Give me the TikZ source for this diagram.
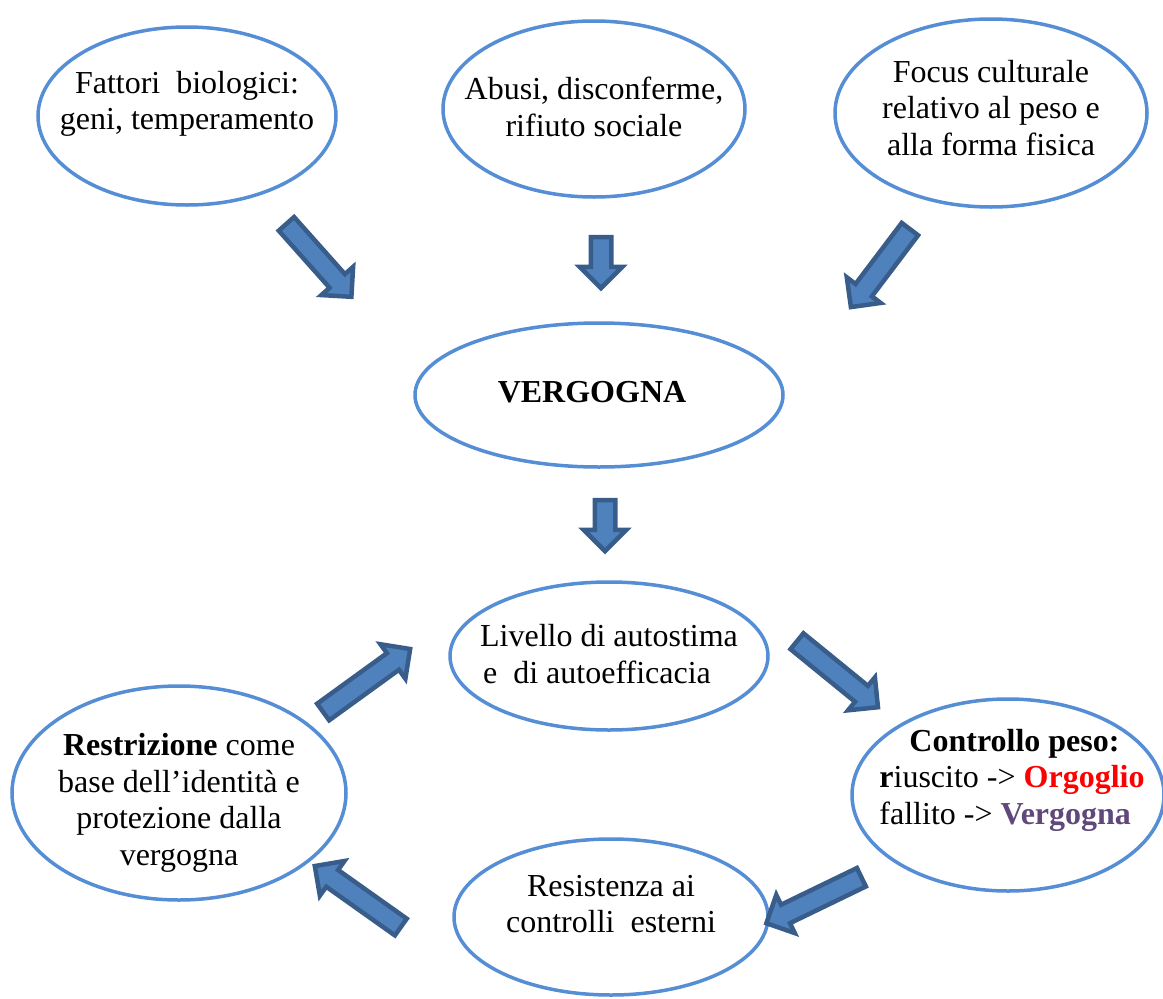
\documentclass[tikz,border=0pt]{standalone}
\usepackage{fontspec}
\setmainfont{Liberation Serif}
\usetikzlibrary{shapes.geometric,shapes.arrows,calc}
\definecolor{ringblue}{RGB}{85,142,213}
\definecolor{arrowfill}{RGB}{79,129,189}
\definecolor{arrowline}{RGB}{56,93,138}
\definecolor{shamepurple}{RGB}{96,73,122}
\tikzset{
  bubble/.style={ellipse, draw=ringblue, line width=3.5pt, inner sep=0pt},
  bubbletext/.style={align=center, font=\fontsize{32}{36.5}\selectfont, inner sep=0pt},
  blockarrow/.style={single arrow, draw=arrowline, fill=arrowfill, line width=4.5pt,
    minimum width=42pt, single arrow head extend=11pt, inner xsep=0pt, inner ysep=8pt},
}
\begin{document}
\begin{tikzpicture}[x=1pt, y=-1pt, line join=miter]
  \useasboundingbox (0,0) rectangle (1163,999);

  % Ellissi
  \node[bubble, minimum width=298pt, minimum height=178pt] (bio) at (187,116) {};
  \node[bubble, minimum width=302pt, minimum height=176pt] (abusi) at (594,109) {};
  \node[bubble, minimum width=312pt, minimum height=188pt] (focus) at (991,113) {};
  \node[bubble, minimum width=368pt, minimum height=144pt] (verg) at (599,395) {};
  \node[bubble, minimum width=318pt, minimum height=148pt] (livello) at (609,656) {};
  \node[bubble, minimum width=312pt, minimum height=192pt] (controllo) at (1008,795) {};
  \node[bubble, minimum width=334pt, minimum height=214pt] (restr) at (179,793) {};
  \node[bubble, minimum width=314pt, minimum height=156pt] (resist) at (611,917) {};

  % Testi
  \node[bubbletext] (bioT) at ([yshift=12pt]bio.center) {Fattori\ \ biologici:\\geni, temperamento};
  \node[bubbletext] (abusiT) at ([yshift=2pt]abusi.center) {Abusi, disconferme,\\rifiuto sociale};
  \node[bubbletext] (focusT) at ([yshift=5pt]focus.center) {Focus culturale\\relativo al peso e\\alla forma fisica};
  \node[bubbletext] (vergT) at ([xshift=-7pt, yshift=3pt]verg.center) {\textbf{VERGOGNA}};
  \node[bubbletext, align=left] (livelloT) at ([yshift=2pt]livello.center) {Livello di autostima\\\hspace*{3pt}e\ \ di autoefficacia};
  \node[bubbletext, align=left] (controlloT) at ([xshift=4pt, yshift=15pt]controllo.center)
    {\hspace*{30pt}\textbf{Controllo peso:}\\\textbf{r}iuscito -> \textcolor{red}{\textbf{Orgoglio}}\\fallito -> \textcolor{shamepurple}{\textbf{Vergogna}}};
  \node[bubbletext] (restrT) at ([yshift=-10pt]restr.center) {\textbf{Restrizione} come\\base dell’identità e\\protezione dalla\\vergogna};
  \node[bubbletext] (resistT) at ([yshift=13pt]resist.center) {Resistenza ai\\controlli\ \ esterni};

  % Frecce
  \coordinate (a1s) at (283,220);  \coordinate (a1e) at (348,293);
  \coordinate (a2s) at (601,232);  \coordinate (a2e) at (601,283);
  \coordinate (a3s) at (913,225);  \coordinate (a3e) at (854,303);
  \coordinate (a4s) at (605,495);  \coordinate (a4e) at (605,546);
  \coordinate (a5s) at (793,638);  \coordinate (a5e) at (874,704);
  \coordinate (a6s) at (866,875);  \coordinate (a6e) at (771,921);
  \coordinate (a7s) at (405,930);  \coordinate (a7e) at (319,869);
  \coordinate (a8s) at (319,715);  \coordinate (a8e) at (406,652);
  \foreach \from/\to [count=\i] in {a1s/a1e, a2s/a2e, a3s/a3e, a4s/a4e, a5s/a5e, a6s/a6e, a7s/a7e, a8s/a8e}
    \path let \p1=($(\to)-(\from)$), \n1={atan2(\y1,\x1)}, \n2={veclen(\x1,\y1)} in
      node[blockarrow, rotate=\n1, minimum height=\n2] (arr\i) at ($(\from)!0.5!(\to)$) {};
\end{tikzpicture}
\end{document}
